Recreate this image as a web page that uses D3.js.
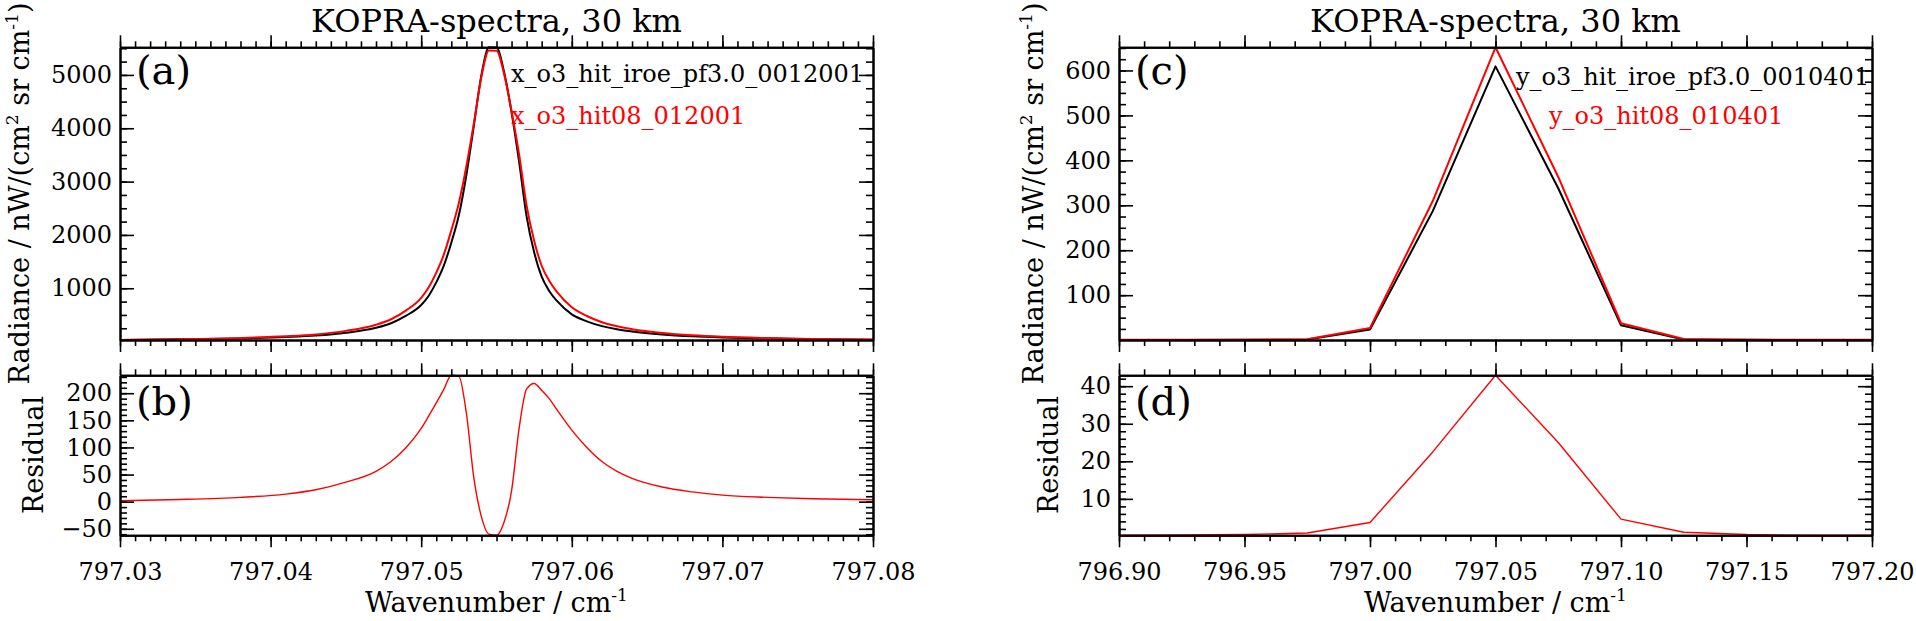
<!DOCTYPE html>
<html>
<head>
<meta charset="utf-8">
<script src="https://cdn.jsdelivr.net/npm/d3@7"></script>
<style>
  body { margin: 0; background: #fff; }
  svg text { font-family: "DejaVu Serif", serif; fill: #000; }
  .tick text { font-size: 24px; }
  .axis .domain { stroke: #000; stroke-width: 2; }
  .axis .tick line { stroke: #000; stroke-width: 1.6; }
</style>
</head>
<body>
<svg id="chart" width="1916" height="621"></svg>
<script>
// ---- panel (a)/(b): wavenumber grid, spectra and residual
const wnA = [797.030, 797.034, 797.038, 797.041, 797.043, 797.045, 797.047, 797.048, 797.049, 797.050,
  797.0505, 797.051, 797.0515, 797.052, 797.0525, 797.053, 797.0535, 797.054, 797.0545, 797.055,
  797.0555, 797.056, 797.0565, 797.057, 797.0575, 797.058, 797.0585, 797.059, 797.060, 797.061,
  797.062, 797.063, 797.064, 797.066, 797.068, 797.070, 797.073, 797.076, 797.080];
const blackA = [30, 42, 60, 85, 112, 165, 260, 345, 486, 686,
  860, 1110, 1424, 1855, 2368, 3124, 4055, 4999, 5518, 5515,
  5061, 4299, 3373, 2342, 1674, 1217, 950, 767, 511, 380,
  290, 230, 190, 135, 100, 78, 58, 45, 33];
const redA = [32, 46, 68, 99, 134, 201, 316, 419, 586, 821,
  1018, 1292, 1631, 2088, 2599, 3287, 4098, 4971, 5458, 5453,
  5023, 4319, 3508, 2550, 1892, 1422, 1140, 937, 643, 480,
  364, 286, 233, 162, 118, 90, 66, 50.5, 36.5];
const residB = [1.8, 4, 8, 14, 22, 36, 56, 74, 100, 135,
  158, 182, 207, 233, 231, 163, 43, -28, -60, -62,
  -38, 20, 135, 208, 218, 205, 190, 170, 132, 100,
  74, 56, 43, 27, 18, 12, 8, 5.5, 3.5];

// ---- panel (c)/(d)
const wnC = [796.900, 796.925, 796.950, 796.975, 797.000, 797.025, 797.050, 797.075, 797.100, 797.125, 797.150, 797.175, 797.200];
const blackC = [0.3, 0.4, 0.6, 1.2, 23.5, 287, 609, 338, 33, 1.5, 0.6, 0.4, 0.3];
const redC = [0.6, 0.8, 1.1, 2.1, 27.2, 309.5, 651.5, 363, 37.6, 2.6, 1.1, 0.75, 0.6];
const residD = [0.3, 0.4, 0.5, 0.9, 3.7, 22.5, 42.9, 25.0, 4.6, 1.1, 0.5, 0.35, 0.3];

// ---- ticks
const xMajorL = [797.03, 797.04, 797.05, 797.06, 797.07, 797.08];
const xMinorStepL = 0.001;
const xMajorR = [796.90, 796.95, 797.00, 797.05, 797.10, 797.15, 797.20];
const xMinorStepR = 0.01;
const yMajorA = [1000, 2000, 3000, 4000, 5000], yMinorStepA = 250;
const yMajorB = [-50, 0, 50, 100, 150, 200], yMinorStepB = 10;
const yMajorC = [100, 200, 300, 400, 500, 600], yMinorStepC = 25;
const yMajorD = [10, 20, 30, 40], yMinorStepD = 2;

const title = "KOPRA-spectra, 30 km";
const legendL = ["x_o3_hit_iroe_pf3.0_0012001", "x_o3_hit08_012001"];
const legendR = ["y_o3_hit_iroe_pf3.0_0010401", "y_o3_hit08_010401"];

const svg = d3.select('#chart');

function minorTicks(domain, step) {
  const lo = Math.ceil(domain[0] / step - 1e-6), hi = Math.floor(domain[1] / step + 1e-6);
  return d3.range(lo, hi + 1).map(i => +(i * step).toFixed(6));
}

function frame(x, y, o) {
  const [x0, x1] = x.range();
  const [y1, y0] = y.range();
  const xmin = minorTicks(x.domain(), o.xStep);
  const ymin = minorTicks(y.domain(), o.yStep);
  // bottom
  svg.append('g').attr('class', 'axis').attr('transform', `translate(0,${y1})`)
    .call(d3.axisBottom(x).tickValues(xmin).tickSizeInner(6).tickSizeOuter(0).tickFormat(''));
  svg.append('g').attr('class', 'axis').attr('transform', `translate(0,${y1})`)
    .call(d3.axisBottom(x).tickValues(o.xMajor).tickSizeInner(12).tickSizeOuter(0).tickPadding(16)
      .tickFormat(o.xLabels ? d3.format('.2f') : ''));
  // top
  svg.append('g').attr('class', 'axis').attr('transform', `translate(0,${y0})`)
    .call(d3.axisTop(x).tickValues(xmin).tickSizeInner(6).tickSizeOuter(0).tickFormat(''));
  svg.append('g').attr('class', 'axis').attr('transform', `translate(0,${y0})`)
    .call(d3.axisTop(x).tickValues(o.xMajor).tickSizeInner(12).tickSizeOuter(0).tickFormat(''));
  // left
  svg.append('g').attr('class', 'axis').attr('transform', `translate(${x0},0)`)
    .call(d3.axisLeft(y).tickValues(ymin).tickSizeInner(-7).tickSizeOuter(0).tickFormat(''));
  svg.append('g').attr('class', 'axis').attr('transform', `translate(${x0},0)`)
    .call(d3.axisLeft(y).tickValues(o.yMajor).tickSizeInner(-14).tickSizeOuter(0).tickPadding(8).tickFormat(d3.format('d')));
  // right
  svg.append('g').attr('class', 'axis').attr('transform', `translate(${x1},0)`)
    .call(d3.axisRight(y).tickValues(ymin).tickSizeInner(-7).tickSizeOuter(0).tickFormat(''));
  svg.append('g').attr('class', 'axis').attr('transform', `translate(${x1},0)`)
    .call(d3.axisRight(y).tickValues(o.yMajor).tickSizeInner(-14).tickSizeOuter(0).tickFormat(''));
}

function series(x, y, wn, vals, color, width, curve) {
  const line = d3.line().x(d => x(d[0])).y(d => y(d[1])).curve(curve);
  svg.append('path')
    .datum(wn.map((w, i) => [w, vals[i]]))
    .attr('fill', 'none')
    .attr('stroke', color)
    .attr('stroke-width', width)
    .attr('stroke-linejoin', 'round')
    .attr('d', line);
}

function yTitle(xpos, ycen, parts) {
  const t = svg.append('text')
    .attr('transform', `translate(${xpos},${ycen}) rotate(-90)`)
    .attr('text-anchor', 'middle')
    .attr('font-size', 27);
  parts.forEach(p => {
    t.append('tspan').attr('dy', p[1]).attr('font-size', p[2] || 27).text(p[0]);
  });
}

function panelPair(o) {
  const x = d3.scaleLinear().domain(d3.extent(o.xMajor)).range([o.x0, o.x1]);
  const yTop = d3.scaleLinear().domain(d3.extent(o.black.concat(o.red))).range([340, 47.3]);
  const yBot = d3.scaleLinear().domain(d3.extent(o.resid)).range([535.3, 375.3]);

  series(x, yTop, o.wn, o.black, '#000', 2, o.curve);
  series(x, yTop, o.wn, o.red, '#ff0000', 2, o.curve);
  series(x, yBot, o.wn, o.resid, '#ff0000', 1.4, o.curve);

  frame(x, yTop, {xMajor: o.xMajor, xStep: o.xStep, yMajor: o.yMajorTop, yStep: o.yStepTop, xLabels: false});
  frame(x, yBot, {xMajor: o.xMajor, xStep: o.xStep, yMajor: o.yMajorBot, yStep: o.yStepBot, xLabels: true});

  const cx = (o.x0 + o.x1) / 2;
  svg.append('text').attr('x', cx).attr('y', 32).attr('text-anchor', 'middle')
    .attr('font-size', 32).text(title);

  const xt = svg.append('text').attr('x', cx).attr('y', 612).attr('text-anchor', 'middle').attr('font-size', 27);
  xt.append('tspan').text('Wavenumber / cm');
  xt.append('tspan').attr('dy', -11).attr('font-size', 17).text('-1');

  yTitle(o.x0 - o.radOff, 193.5, [
    ['Radiance / nW/(cm', 0], ['2', -11, 17], [' sr cm', 11], ['-1', -11, 17], [')', 11]
  ]);
  yTitle(o.x0 - o.resOff, 455, [['Residual', 0]]);

  svg.append('text').attr('x', o.x0 + 16).attr('y', 84).attr('font-size', 40).text(o.tags[0]);
  svg.append('text').attr('x', o.x0 + 16).attr('y', 415).attr('font-size', 40).text(o.tags[1]);

  svg.append('text').attr('x', o.leg[0]).attr('y', o.legY[0]).attr('font-size', 24)
    .style('fill', '#000').text(o.legend[0]);
  svg.append('text').attr('x', o.leg[1]).attr('y', o.legY[1]).attr('font-size', 24)
    .style('fill', '#ff0000').text(o.legend[1]);
}

panelPair({
  x0: 120, x1: 873, wn: wnA, black: blackA, red: redA, resid: residB, curve: d3.curveMonotoneX,
  xMajor: xMajorL, xStep: xMinorStepL,
  yMajorTop: yMajorA, yStepTop: yMinorStepA, yMajorBot: yMajorB, yStepBot: yMinorStepB,
  radOff: 91, resOff: 77, tags: ['(a)', '(b)'],
  legend: legendL, leg: [511, 511], legY: [82, 124]
});

panelPair({
  x0: 1119, x1: 1872, wn: wnC, black: blackC, red: redC, resid: residD, curve: d3.curveLinear,
  xMajor: xMajorR, xStep: xMinorStepR,
  yMajorTop: yMajorC, yStepTop: yMinorStepC, yMajorBot: yMajorD, yStepBot: yMinorStepD,
  radOff: 76, resOff: 61, tags: ['(c)', '(d)'],
  legend: legendR, leg: [1516, 1549], legY: [85, 124]
});
</script>
</body>
</html>
